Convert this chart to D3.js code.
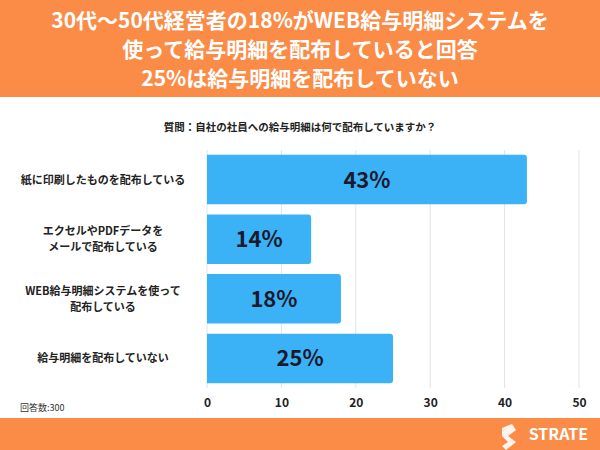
<!DOCTYPE html>
<html><head><meta charset="utf-8">
<script src="https://cdn.jsdelivr.net/npm/d3@7"></script>
<style>body{margin:0}svg{font-family:"Noto Sans CJK JP",sans-serif}</style>
</head><body><div id="wrapper"></div>
<script>
var categories = [["紙に印刷したものを配布している"], ["エクセルやPDFデータを", "メールで配布している"], ["WEB給与明細システムを使って", "配布している"], ["給与明細を配布していない"]];
var values = [43, 14, 18, 25];
var ticks = [0, 10, 20, 30, 40, 50];
var titleLines = ["30代〜50代経営者の18%がWEB給与明細システムを", "使って給与明細を配布していると回答", "25%は給与明細を配布していない"];

var orange = "#fa8c47", blue = "#3bb2f6";
var svg = d3.select("#wrapper").append("svg").attr("width", 600).attr("height", 450);
svg.append("rect").attr("width", 600).attr("height", 450).attr("fill", "#fff");
svg.append("rect").attr("width", 600).attr("height", 97).attr("fill", orange);
svg.append("rect").attr("y", 418).attr("width", 600).attr("height", 32).attr("fill", orange);

svg.selectAll(".title").data(titleLines).enter().append("text")
  .attr("x", 300).attr("y", (d, i) => 28 + i * 29)
  .attr("text-anchor", "middle").attr("fill", "#fff")
  .style("font-size", "21px").style("font-weight", "bold").text(d => d);

svg.append("text").attr("x", 300).attr("y", 131).attr("text-anchor", "middle")
  .style("font-size", "10.5px").style("font-weight", "bold").attr("fill", "#222")
  .text("質問：自社の社員への給与明細は何で配布していますか？");

var x = d3.scaleLinear().domain([0, 50]).range([207, 579]);
var y = d3.scaleBand().domain(d3.range(values.length)).range([150, 388]).paddingInner(0.17).paddingOuter(0.08);

svg.selectAll(".grid").data(ticks).enter().append("line")
  .attr("x1", d => x(d)).attr("x2", d => x(d)).attr("y1", 150).attr("y2", 388)
  .attr("stroke", "#e3e3e3");

svg.selectAll(".bar").data(values).enter().append("path")
  .attr("fill", blue)
  .attr("d", (d, i) => {
    var x0 = x(0), x1 = x(d), y0 = y(i), h = y.bandwidth(), r = 3;
    return `M${x0},${y0}H${x1 - r}Q${x1},${y0} ${x1},${y0 + r}V${y0 + h - r}Q${x1},${y0 + h} ${x1 - r},${y0 + h}H${x0}Z`;
  });

svg.selectAll(".val").data(values).enter().append("text")
  .attr("x", d => (x(0) + x(d)) / 2).attr("y", (d, i) => y(i) + y.bandwidth() / 2 + 8)
  .attr("text-anchor", "middle").attr("fill", "#1a1a2e")
  .style("font-size", "22px").style("font-weight", "bold").text(d => d + "%");

var cat = svg.selectAll(".cat").data(categories).enter().append("text")
  .attr("text-anchor", "middle").attr("fill", "#222")
  .style("font-size", "11px").style("font-weight", "bold");
cat.each(function (lines, i) {
  var cy = y(i) + y.bandwidth() / 2 + 4 - (lines.length - 1) * 8;
  d3.select(this).selectAll("tspan").data(lines).enter().append("tspan")
    .attr("x", 103).attr("y", (d, j) => cy + j * 16).text(d => d);
});

svg.append("g").attr("transform", "translate(0,388)")
  .call(d3.axisBottom(x).tickValues(ticks).tickSize(0).tickPadding(10))
  .call(g => g.select(".domain").remove())
  .selectAll("text").style("font-size", "12px").style("font-weight", "bold").attr("fill", "#222")
  .style("font-family", "'Noto Sans CJK JP',sans-serif");

svg.append("text").attr("x", 20).attr("y", 411).style("font-size", "9px").attr("fill", "#333").text("回答数:300");
svg.append("text").attr("x", 588).attr("y", 440).attr("text-anchor", "end").attr("fill", "#fff")
  .style("font-size", "16px").style("font-weight", "bold").text("STRATE");
svg.append("path").attr("d", "M502,428 l10,-4 l4,6 l-8,6 l8,6 l-10,8 l-4,-4 l6,-4 l-6,-6z").attr("fill", "#fff").attr("opacity", 0.9);
</script></body></html>
